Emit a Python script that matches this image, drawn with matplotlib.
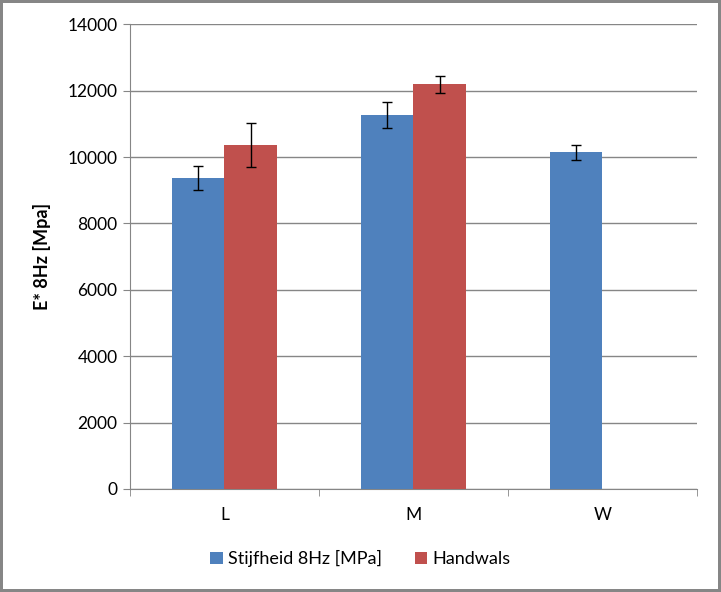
import matplotlib.pyplot as plt
import numpy as np

plt.rcParams['font.family'] = ['Lato', 'DejaVu Sans']

categories = ['L', 'M', 'W']
stijfheid = [9377, 11265, 10151]
stijfheid_err = [361, 392, 226]
handwals = [10361, 12199, np.nan]
handwals_err = [657, 256, np.nan]

blue = '#4F81BD'
red = '#C0504D'
grey = '#868686'

fig = plt.figure(figsize=(7.21, 5.92), dpi=100)
fig.patch.set_edgecolor(grey)
fig.patch.set_linewidth(3)

ax = fig.add_axes([0.1803, 0.174, 0.7864, 0.785])

x = np.arange(len(categories))
w = 0.28
ax.bar(x - w / 2, stijfheid, w, color=blue, label='Stijfheid 8Hz [MPa]', zorder=3)
ax.bar(x + w / 2, handwals, w, color=red, label='Handwals', zorder=3)
ax.errorbar(x - w / 2, stijfheid, yerr=stijfheid_err, fmt='none', ecolor='black',
            elinewidth=1, capsize=3.5, capthick=1, zorder=4)
ax.errorbar(x + w / 2, handwals, yerr=handwals_err, fmt='none', ecolor='black',
            elinewidth=1, capsize=3.5, capthick=1, zorder=4)

ax.set_xlim(-0.5, 2.5)
ax.set_ylim(0, 14000)
ax.set_yticks(np.arange(0, 14001, 2000))
ax.set_xticks(x)
ax.set_xticklabels(categories)
ax.set_xticks([-0.5, 0.5, 1.5, 2.5], minor=True)
ax.tick_params(axis='x', which='major', length=0, pad=13, labelsize=12.5)
ax.tick_params(axis='x', which='minor', length=5, color=grey, direction='out')
ax.tick_params(axis='y', length=5, color=grey, direction='out', labelsize=12.5, pad=4)

ax.yaxis.grid(True, color=grey, linewidth=1, zorder=0)
ax.set_axisbelow(True)
for s in ['top', 'right']:
    ax.spines[s].set_visible(False)
for s in ['left', 'bottom']:
    ax.spines[s].set_color(grey)

ax.set_ylabel('E* 8Hz [Mpa]', fontsize=13, fontweight='bold', labelpad=12)

fig.legend(*ax.get_legend_handles_labels(), loc='center', bbox_to_anchor=(0.5, 0.056),
           ncol=2, frameon=False, fontsize=13, handlelength=0.7, handleheight=0.7,
           handletextpad=0.3, columnspacing=1.8)

fig.savefig('out.png', dpi=100, edgecolor=fig.get_edgecolor())
